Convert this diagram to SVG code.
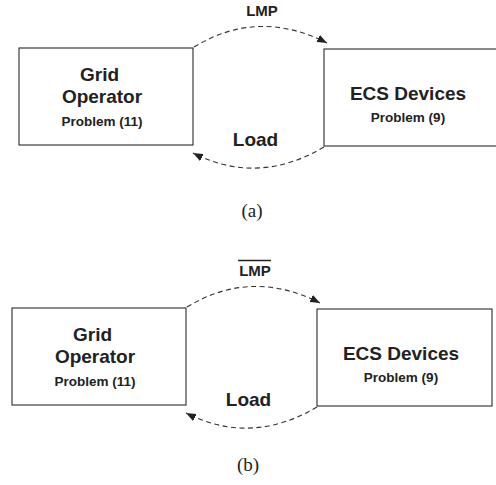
<svg xmlns="http://www.w3.org/2000/svg" width="496" height="485" viewBox="0 0 496 485">
<style>
.box{fill:#fff;stroke:#2a2a2a;stroke-width:1.1}
.t{font-family:"Liberation Sans",Arial,sans-serif;font-weight:bold;fill:#222;text-anchor:middle}
.big{font-size:19px}
.sm{font-size:13.5px}
.lbl{font-size:15px}
.cap{font-family:"Liberation Serif","Times New Roman",serif;font-size:19px;fill:#222;text-anchor:middle}
.arc{fill:none;stroke:#333;stroke-width:1.1;stroke-dasharray:5,3.5}
</style>
<defs>
<marker id="ah" viewBox="0 0 10 8" refX="10" refY="4" markerWidth="10" markerHeight="8" markerUnits="userSpaceOnUse" orient="auto">
<path d="M0,0 L10,4 L0,8 Z" fill="#222"/>
</marker>
</defs>
<rect width="496" height="485" fill="#fff"/>
<g id="panel-a">
<g id="a-grid">
<rect class="box" x="19" y="48" width="174" height="97"/>
<text class="t big" x="99.5" y="81">Grid</text>
<text class="t big" x="102" y="103">Operator</text>
<text class="t sm" x="102" y="126">Problem (11)</text>
</g>
<g id="a-ecs">
<rect class="box" x="324" y="49" width="175" height="97"/>
<text class="t big" x="408" y="100">ECS Devices</text>
<text class="t sm" x="408" y="122">Problem (9)</text>
</g>
<g id="a-connectors">
<path class="arc" d="M194,47 Q258,8 327,43" marker-end="url(#ah)"/>
<path class="arc" d="M324,147 Q258,186 193,153" marker-end="url(#ah)"/>
<text class="t lbl" x="262" y="16">LMP</text>
<text class="t big" x="255.5" y="146">Load</text>
</g>
<text class="cap" x="252" y="217">(a)</text>
</g>
<g id="panel-b">
<g id="b-grid">
<rect class="box" x="12" y="308" width="174" height="97"/>
<text class="t big" x="92.5" y="341">Grid</text>
<text class="t big" x="95" y="363">Operator</text>
<text class="t sm" x="95" y="386">Problem (11)</text>
</g>
<g id="b-ecs">
<rect class="box" x="317" y="309" width="175" height="97"/>
<text class="t big" x="401" y="360">ECS Devices</text>
<text class="t sm" x="401" y="382">Problem (9)</text>
</g>
<g id="b-connectors">
<path class="arc" d="M187,307 Q251,268 320,303" marker-end="url(#ah)"/>
<path class="arc" d="M317,407 Q251,446 186,413" marker-end="url(#ah)"/>
<text class="t lbl" x="255" y="276">LMP</text>
<line x1="238" y1="260.5" x2="271" y2="260.5" stroke="#222" stroke-width="1.4"/>
<text class="t big" x="248.5" y="406">Load</text>
</g>
<text class="cap" x="248" y="471">(b)</text>
</g>
</svg>
